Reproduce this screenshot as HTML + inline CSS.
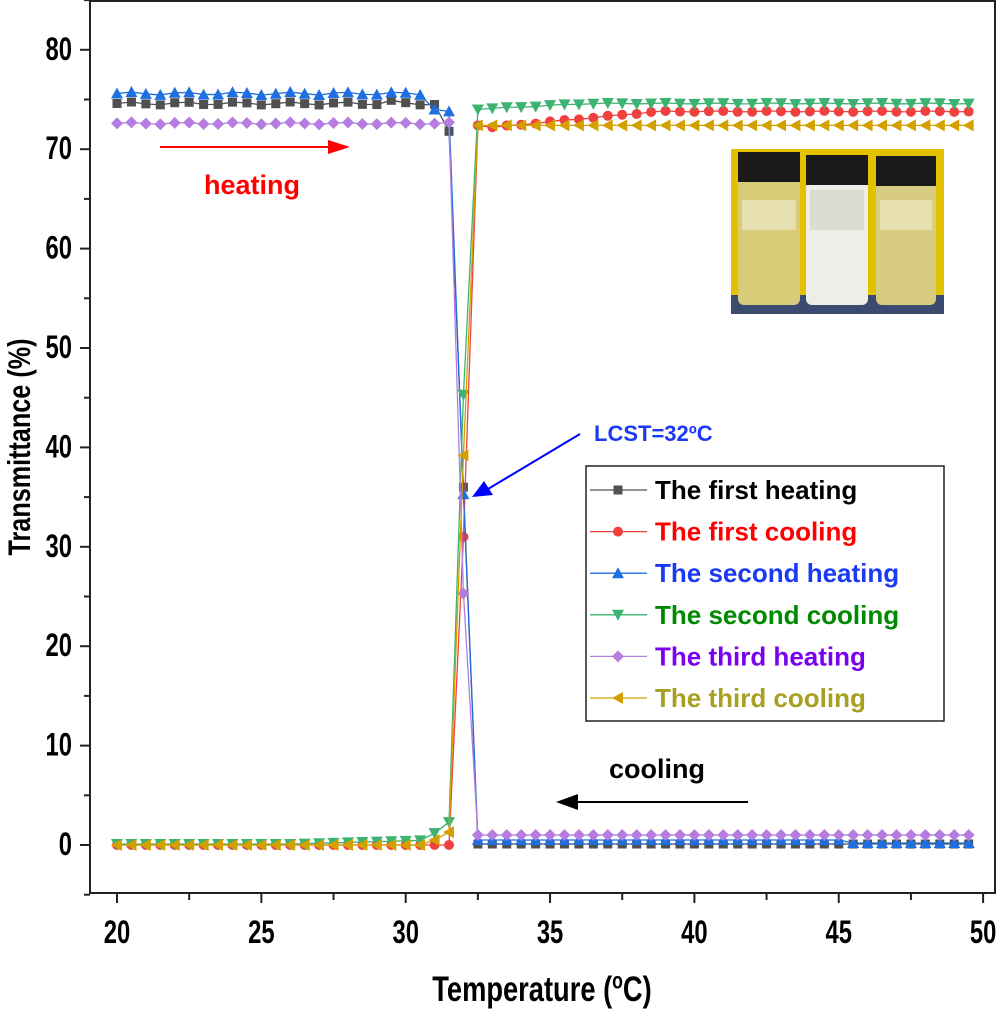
<!DOCTYPE html>
<html><head><meta charset="utf-8"><style>
body{margin:0;background:#fff}
svg text{font-family:"Liberation Sans",Arial,sans-serif;font-weight:bold}
</style></head><body>
<svg id="s" width="1000" height="1015" xmlns="http://www.w3.org/2000/svg">
<rect x="90" y="1" width="905" height="892" fill="none" stroke="#222" stroke-width="2"/>
<g id="ax"></g>
<g id="data"></g>
<rect x="731" y="149" width="213" height="165" fill="#e2c200"/>
<rect x="731" y="295" width="213" height="19" fill="#3a4a70"/>
<rect x="738" y="175" width="62" height="130" rx="6" fill="#d8cc78"/>
<rect x="806" y="175" width="62" height="130" rx="6" fill="#eeeee8"/>
<rect x="876" y="175" width="60" height="130" rx="6" fill="#d8cc80"/>
<rect x="742" y="200" width="54" height="30" fill="#e6e0b0"/>
<rect x="810" y="190" width="54" height="40" fill="#dcdcd0"/>
<rect x="880" y="200" width="52" height="30" fill="#e6e0b0"/>
<rect x="738" y="152" width="62" height="30" fill="#1a1a1a"/>
<rect x="806" y="155" width="62" height="30" fill="#1a1a1a"/>
<rect x="876" y="156" width="60" height="30" fill="#1a1a1a"/>
<line x1="160" y1="147" x2="332" y2="147" stroke="#f00" stroke-width="2"/>
<polygon points="328,140 350,147 328,154" fill="#f00"/>
<text x="252" y="194" font-size="27" fill="#f00" text-anchor="middle">heating</text>
<line x1="748" y1="802" x2="574" y2="802" stroke="#000" stroke-width="2"/>
<polygon points="578,794 556,802 578,810" fill="#000"/>
<text x="657" y="778" font-size="27" fill="#000" text-anchor="middle">cooling</text>
<line x1="580" y1="434" x2="488" y2="489" stroke="#00f" stroke-width="2"/>
<polygon points="472,497 484,481 493,495" fill="#00f"/>
<text x="594" y="441" font-size="22" fill="#1a3af5">LCST=32ºC</text>
<rect x="586" y="466" width="358" height="255" fill="#fff" stroke="#222" stroke-width="1.5"/>
<g id="leg"></g>
<text transform="translate(30,447) rotate(-90) scale(0.9,1.12)" font-size="28" text-anchor="middle">Transmittance (%)</text>
<text transform="translate(542,1001) scale(0.88,1.15)" font-size="31" text-anchor="middle">Temperature (<tspan font-size="20" dy="-11">o</tspan><tspan dy="11">C)</tspan></text>
</svg>
<script>
const NS="http://www.w3.org/2000/svg";
const X=t=>117+(t-20)*28.87, Y=v=>845-v*9.94;
function el(p,n,a,txt){const e=document.createElementNS(NS,n);for(const k in a)e.setAttribute(k,a[k]);if(txt!==undefined)e.textContent=txt;p.appendChild(e);return e;}
const ax=document.getElementById('ax');
for(let t=20;t<=50;t+=2.5){const maj=t%5==0;el(ax,'line',{x1:X(t),x2:X(t),y1:893,y2:maj?903:900,stroke:'#222','stroke-width':2});
 if(maj)el(ax,'text',{transform:`translate(${X(t)},943) scale(0.85,1.15)`,'font-size':28,'text-anchor':'middle'},t);}
for(let v=-5;v<=85;v+=5){const maj=v%10==0;el(ax,'line',{x1:90,x2:maj?80:84,y1:Y(v),y2:Y(v),stroke:'#222','stroke-width':2});
 if(maj)el(ax,'text',{transform:`translate(72,${Y(v)+10}) scale(0.85,1.15)`,'font-size':28,'text-anchor':'end'},v);}
function mk(p,type,x,y,c){
 if(type=='sq')el(p,'rect',{x:x-4.5,y:y-4.5,width:9,height:9,fill:c});
 else if(type=='ci')el(p,'circle',{cx:x,cy:y,r:5,fill:c});
 else if(type=='up')el(p,'polygon',{points:`${x},${y-6} ${x+6},${y+5} ${x-6},${y+5}`,fill:c});
 else if(type=='dn')el(p,'polygon',{points:`${x},${y+6} ${x+6},${y-5} ${x-6},${y-5}`,fill:c});
 else if(type=='di')el(p,'polygon',{points:`${x},${y-6} ${x+6},${y} ${x},${y+6} ${x-6},${y}`,fill:c});
 else if(type=='le')el(p,'polygon',{points:`${x-6},${y} ${x+5},${y-6} ${x+5},${y+6}`,fill:c});}
const ts=[];for(let t=20;t<=49.5;t+=0.5)ts.push(t);
function w(i){return Math.sin(i*1.7)*0.25;}
const series=[
 {c:'#505050',m:'sq',f:(t,i)=>t<=30.5?74.6+w(i)*0.6+(t>29&&t<30?0.2:0):t==31?74.5:t==31.5?71.8:t==32?36:0.1},
 {c:'#f04040',m:'ci',f:(t,i)=>t<=31.5?0:t==32?31:t==32.5?72.4:Math.min(73.8,72.2+(t-33)*0.28)+w(i)*0.2},
 {c:'#1f6fe0',m:'up',f:(t,i)=>t<=30.5?75.6+w(i)*0.6:t==31?74:t==31.5?73.8:t==32?35.3:t<45.5?0.5:0.2},
 {c:'#3cb371',m:'dn',f:(t,i)=>t<=30.5?0.1+Math.max(0,(t-26))*0.08:t==31?1.2:t==31.5?2.3:t==32?45.3:t==32.5?74:Math.min(74.6,74.1+(t-33)*0.15)+w(i)*0.2},
 {c:'#b57de0',m:'di',f:(t,i)=>t<=31.5?72.6+w(i)*0.4:t==32?25.3:1},
 {c:'#d4a000',m:'le',f:(t,i)=>t<=30.5?0:t==31?0.5:t==31.5?1.3:t==32?39.2:72.4}
];
const d=document.getElementById('data');
series.forEach(s=>{const pts=ts.map((t,i)=>[X(t),Y(s.f(t,i))]);
 el(d,'polyline',{points:pts.map(p=>p.join(',')).join(' '),fill:'none',stroke:s.c,'stroke-width':1.3});
 pts.forEach(p=>mk(d,s.m,p[0],p[1],s.c));});
const lg=document.getElementById('leg');
const names=[['The first heating','#000'],['The first cooling','#f00'],['The second heating','#1a3af5'],['The second cooling','#008a00'],['The third heating','#7a00f0'],['The third cooling','#a8a020']];
names.forEach((n,i)=>{const y=490+i*41.6;el(lg,'line',{x1:590,x2:647,y1:y,y2:y,stroke:series[i].c,'stroke-width':1.3});mk(lg,series[i].m,618,y,series[i].c);
 el(lg,'text',{x:655,y:y+9,'font-size':26,fill:n[1]},n[0]);});
</script>
</body></html>
